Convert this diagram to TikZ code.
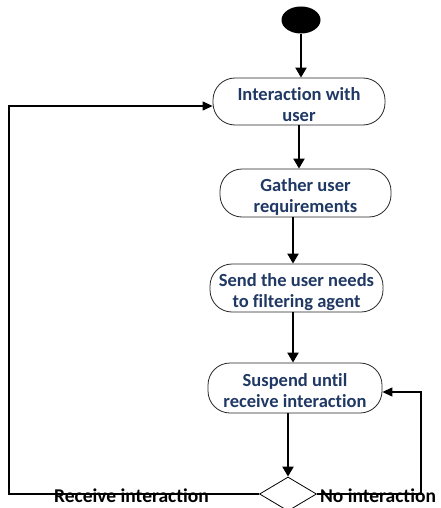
\documentclass[tikz,border=0pt]{standalone}
\usepackage{fontspec}
\setmainfont{Carlito}[Ligatures=NoCommon]
\usetikzlibrary{arrows.meta,shapes.geometric,calc}
\definecolor{txtblue}{RGB}{31,56,100}
\newcommand{\boxtxt}[1]{\raisebox{-5pt}[\height][\depth]{\begin{tabular}{@{}c@{}}#1\end{tabular}}}
\begin{document}
\begin{tikzpicture}[x=1pt,y=-1pt,
  actbox/.style={draw=black!85,line width=0.8pt,rounded corners=22pt,minimum height=47pt,
    align=center,text=txtblue,font=\fontsize{18.5}{21}\selectfont\bfseries,inner sep=2pt},
  flow/.style={line width=2.1pt,-{Triangle[length=10pt,width=11pt]}},
  loop/.style={line width=1.2pt,-{Triangle[length=10pt,width=9pt]}},
  lbl/.style={font=\fontsize{19.5}{22}\selectfont\bfseries,inner sep=0pt,anchor=base}]
\useasboundingbox (0,0) rectangle (441,508);
\clip (0,0) rectangle (441,508);
\node[ellipse,fill=black,minimum width=39pt,minimum height=27pt,inner sep=0pt] (start) at (301,20) {};
\node[actbox,minimum width=172pt] (b1) at (299,101.5) {\boxtxt{Interaction with\\user}};
\node[actbox,minimum width=171pt,minimum height=48pt] (b2) at (305.5,193) {\boxtxt{Gather user\\requirements}};
\node[actbox,minimum width=173pt,minimum height=48pt] (b3) at (296.5,288) {\boxtxt{Send the user needs\\to filtering agent}};
\node[actbox,minimum width=174pt,minimum height=50pt] (b4) at (295,388) {\boxtxt{Suspend until\\receive interaction}};
\node[diamond,draw=black,line width=0.8pt,minimum width=57pt,minimum height=34pt,inner sep=0pt,aspect=1.67] (dia) at (288,494) {};
\coordinate (L) at (9,106);
\coordinate (R) at (421,392);
\draw[flow] (start.south) -- (start.south |- b1.north);
\draw[flow] (b1.south) -- (b1.south |- b2.north);
\draw[flow] ([xshift=-12.5pt]b2.south) -- ([xshift=-12.5pt]b2.south |- b3.north);
\draw[flow] ([xshift=-3.5pt]b3.south) -- ([xshift=-3.5pt]b3.south |- b4.north);
\draw[flow] (dia |- b4.south) -- (dia.north);
\draw[loop] (dia.west) -| (L) -- (L -| b1.west);
\draw[loop] (dia.east) -| (R) -- (R -| b4.east);
\node[lbl] (rl) at (131.5,502) {Receive interaction};
\node[lbl] (nl) at (378,502) {No interaction};
\end{tikzpicture}
\end{document}
